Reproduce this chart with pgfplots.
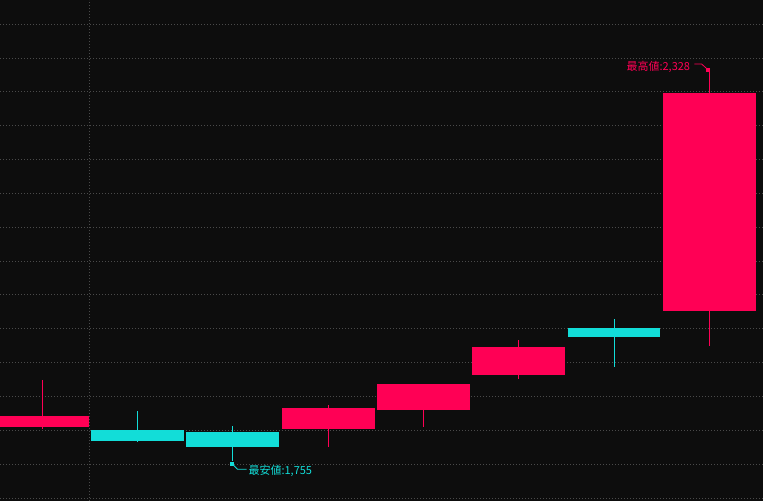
\documentclass[border=0pt]{standalone}
\usepackage{fontspec}
\setmainfont{Noto Sans CJK JP}
\usepackage{pgfplots}
\pgfplotsset{compat=1.18}
\definecolor{bgcol}{HTML}{0D0D0D}
\definecolor{cred}{HTML}{FF0055}
\definecolor{ccyan}{HTML}{12DDD8}
\definecolor{gridc}{HTML}{4A4A4A}
\begin{document}
\begin{tikzpicture}
\begin{axis}[
  width=763pt, height=501pt, scale only axis,
  xmin=-0.443, xmax=7.563, ymin=1695.6, ymax=2435.7,
  axis background/.style={fill=bgcol},
  axis line style={draw=none},
  xtick={0.5}, ytick={1700,1750,...,2400},
  xticklabels={}, yticklabels={},
  major tick length=0pt,
  xmajorgrids, ymajorgrids,
  grid style={gridc, line width=1pt, dash pattern=on 1pt off 2pt},
  cycle list={{mark=none}},
]
% candle 1 (up)
\addplot[cred, line width=1pt] coordinates {(0,1802) (0,1875)};
\addplot[fill=cred, draw=none] coordinates {(-0.487,1805) (0.487,1805) (0.487,1821) (-0.487,1821)} -- cycle;
% candle 2 (down)
\addplot[ccyan, line width=1pt] coordinates {(1,1783) (1,1829)};
\addplot[fill=ccyan, draw=none] coordinates {(0.513,1784) (1.487,1784) (1.487,1801) (0.513,1801)} -- cycle;
% candle 3 (down)
\addplot[ccyan, line width=1pt] coordinates {(2,1755) (2,1807)};
\addplot[fill=ccyan, draw=none] coordinates {(1.513,1775) (2.487,1775) (2.487,1797) (1.513,1797)} -- cycle;
% candle 4 (up)
\addplot[cred, line width=1pt] coordinates {(3,1776) (3,1838)};
\addplot[fill=cred, draw=none] coordinates {(2.513,1802) (3.487,1802) (3.487,1833) (2.513,1833)} -- cycle;
% candle 5 (up)
\addplot[cred, line width=1pt] coordinates {(4,1805) (4,1869)};
\addplot[fill=cred, draw=none] coordinates {(3.513,1830) (4.487,1830) (4.487,1869) (3.513,1869)} -- cycle;
% candle 6 (up)
\addplot[cred, line width=1pt] coordinates {(5,1876) (5,1934)};
\addplot[fill=cred, draw=none] coordinates {(4.513,1882) (5.487,1882) (5.487,1923) (4.513,1923)} -- cycle;
% candle 7 (down)
\addplot[ccyan, line width=1pt] coordinates {(6,1894) (6,1965)};
\addplot[fill=ccyan, draw=none] coordinates {(5.513,1938) (6.487,1938) (6.487,1951) (5.513,1951)} -- cycle;
% candle 8 (up)
\addplot[cred, line width=1pt] coordinates {(7,1925) (7,2331)};
\addplot[fill=cred, draw=none] coordinates {(6.513,1976) (7.487,1976) (7.487,2298) (6.513,2298)} -- cycle;
% annotations
\addplot[cred, line width=0.8pt, mark=square*, mark size=1.5pt, mark indices={3}, mark options={solid, fill=cred}] coordinates {(6.843,2341) (6.920,2341) (6.983,2333)};
\node[anchor=east, text=cred, font=\fontsize{11}{11}\selectfont, inner sep=0pt] at (axis cs:6.80,2336.5) {最高値:2,328};
\addplot[ccyan, line width=0.8pt, mark=square*, mark size=1.5pt, mark indices={1}, mark options={solid, fill=ccyan}] coordinates {(1.995,1750) (2.049,1742.6) (2.146,1742.6)};
\node[anchor=west, text=ccyan, font=\fontsize{11}{11}\selectfont, inner sep=0pt] at (axis cs:2.163,1739.7) {最安値:1,755};
\end{axis}
\pgfresetboundingbox
\useasboundingbox (current axis.south west) rectangle (current axis.north east);
\end{tikzpicture}
\end{document}
